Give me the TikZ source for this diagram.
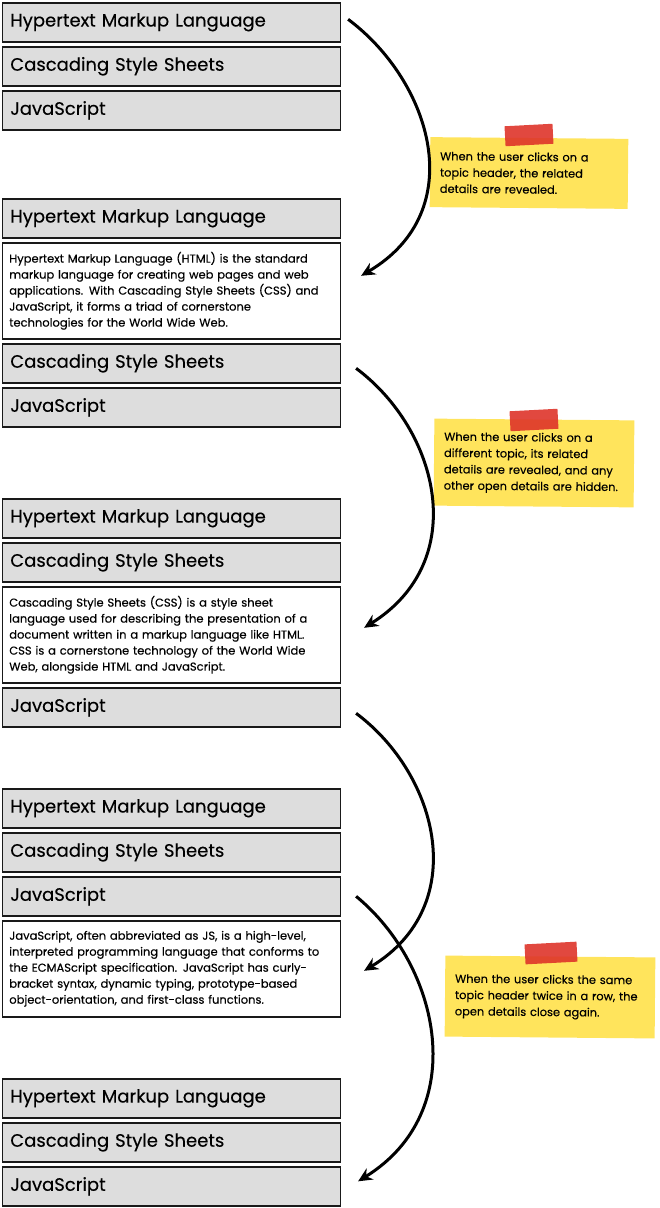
\documentclass[tikz,border=0pt]{standalone}
\usepackage{fontspec}
\setmainfont{Poppins}[FakeBold=0.3]
\usetikzlibrary{positioning,arrows.meta,calc}
\definecolor{headgray}{RGB}{221,221,221}
\definecolor{noteyellow}{RGB}{255,228,92}
\definecolor{tapered}{RGB}{222,52,42}

\begin{document}
\begin{tikzpicture}[x=1pt,y=1pt,
    node distance=3.4pt,
    header/.style={rectangle,draw=black!90,fill=headgray,line width=1.6pt,text width=322pt,minimum height=39pt,inner xsep=8pt,align=left,font=\fontsize{18}{20}\selectfont},
    detail/.style={rectangle,draw=black!90,fill=white,line width=1.6pt,text width=324pt,minimum height=96pt,inner xsep=7pt,align=left,font=\fontsize{11.5}{16}\selectfont},
    note/.style={rectangle,fill=noteyellow,align=left,inner xsep=10pt,font=\fontsize{11.4}{16.3}\selectfont},
    tape/.style={rectangle,fill=tapered,fill opacity=0.9,minimum width=48pt,minimum height=20pt},
    arrow/.style={-{Stealth[length=14pt,width=13pt]},line width=3pt}
  ]
    \useasboundingbox (0,0) rectangle (660,-1208);

    % step 1: all closed
    \node[header,anchor=north west] (h1) at (1.5,-2) {Hypertext Markup Language};
    \node[header,below=of h1] (c1) {Cascading Style Sheets};
    \node[header,below=of c1] (j1) {JavaScript};

    % step 2: html open
    \node[header,anchor=north west] (h2) at (1.5,-198) {Hypertext Markup Language};
    \node[detail,below=of h2] (d2) {Hypertext Markup Language (HTML) is the standard\\markup language for creating web pages and web\\applications. With Cascading Style Sheets (CSS) and\\JavaScript, it forms a triad of cornerstone\\technologies for the World Wide Web.};
    \node[header,below=of d2] (c2) {Cascading Style Sheets};
    \node[header,below=of c2] (j2) {JavaScript};

    % step 3: css open
    \node[header,anchor=north west] (h3) at (1.5,-498) {Hypertext Markup Language};
    \node[header,below=of h3] (c3) {Cascading Style Sheets};
    \node[detail,below=of c3] (d3) {Cascading Style Sheets (CSS) is a style sheet\\language used for describing the presentation of a\\document written in a markup language like HTML.\\CSS is a cornerstone technology of the World Wide\\Web, alongside HTML and JavaScript.};
    \node[header,below=of d3] (j3) {JavaScript};

    % step 4: js open
    \node[header,anchor=north west] (h4) at (1.5,-788) {Hypertext Markup Language};
    \node[header,below=of h4] (c4) {Cascading Style Sheets};
    \node[header,below=of c4] (j4) {JavaScript};
    \node[detail,below=of j4] (d4) {JavaScript, often abbreviated as JS, is a high-level,\\interpreted programming language that conforms to\\the ECMAScript specification. JavaScript has curly-\\bracket syntax, dynamic typing, prototype-based\\object-orientation, and first-class functions.};

    % step 5: all closed again
    \node[header,anchor=north west] (h5) at (1.5,-1078) {Hypertext Markup Language};
    \node[header,below=of h5] (c5) {Cascading Style Sheets};
    \node[header,below=of c5] (j5) {JavaScript};

    % sticky notes
    \node[note,minimum width=198pt,minimum height=70pt,text width=178pt,rotate=-0.5] (note1) at (529,-173) {When the user clicks on a\\topic header, the related\\details are revealed.};
    \node[tape,rotate=3] (tape1) at (529,-135) {};
    \node[note,minimum width=200pt,minimum height=87pt,text width=180pt,rotate=-0.5] (note2) at (534,-463) {When the user clicks on a\\different topic, its related\\details are revealed, and any\\other open details are hidden.};
    \node[tape,rotate=3] (tape2) at (534,-420) {};
    \node[note,minimum width=210pt,minimum height=81pt,text width=190pt,rotate=-0.5] (note3) at (550,-997) {When the user clicks the same\\topic header twice in a row, the\\open details close again.};
    \node[tape,rotate=3,minimum width=52pt] (tape3) at (551,-953) {};

    \draw[arrow] ([shift={(7,3)}]h1.east) .. controls +(83,-62) and +(110,65) .. ([shift={(20,15)}]d2.east);
    \draw[arrow] ([shift={(15,-5)}]c2.east) .. controls +(83,-62) and +(107,67) .. ([shift={(23,7)}]d3.east);
    \draw[arrow] ([shift={(15,-6)}]j3.east) .. controls +(83,-62) and +(107,65) .. ([shift={(23,-2)}]d4.east);
    \draw[arrow] ([shift={(15,0)}]j4.east) .. controls +(85,-70) and +(113,70) .. ([shift={(17,5)}]j5.east);
  \end{tikzpicture}
\end{document}
